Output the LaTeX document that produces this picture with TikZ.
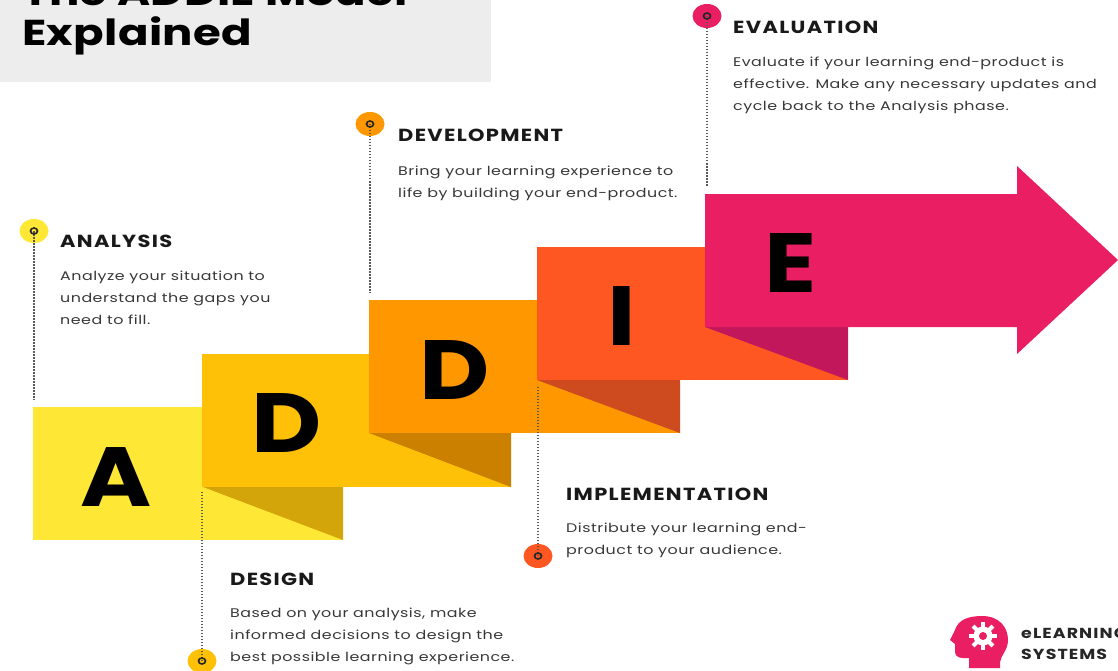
\documentclass[tikz,border=0pt]{standalone}
\usepackage{fontspec}
\setmainfont{Poppins}
\newfontfamily\titlefont[FakeStretch=1.25,LetterSpace=1]{Poppins}
\newfontfamily\headfont[FakeStretch=1.2,LetterSpace=7.5]{Poppins}
\newfontfamily\bodyfont[FakeStretch=1.27,LetterSpace=4]{Poppins}
\newfontfamily\letterfont[FakeStretch=1.15]{Poppins}
\usetikzlibrary{calc,shapes.geometric}
\definecolor{stepA}{HTML}{FFE835}
\definecolor{stepD}{HTML}{FFC107}
\definecolor{stepDv}{HTML}{FF9800}
\definecolor{stepI}{HTML}{FF5722}
\definecolor{stepE}{HTML}{E91E63}
\definecolor{foldA}{HTML}{D4A50A}
\definecolor{foldD}{HTML}{CC8000}
\definecolor{foldDv}{HTML}{CE4A1F}
\definecolor{foldI}{HTML}{C2185B}
\tikzset{
  head/.style={anchor=base west,inner sep=0pt,text=black!90,font=\headfont\bfseries\fontsize{17.5}{18}\selectfont},
  body/.style={anchor=north west,inner sep=0pt,align=left,text=black!78,font=\bodyfont\fontsize{12.5}{22}\selectfont},
  letter/.style={inner sep=0pt,font=\letterfont\bfseries\fontsize{84}{84}\selectfont},
  title/.style={anchor=base west,inner sep=0pt,font=\titlefont\bfseries\fontsize{36}{36}\selectfont},
  brand/.style={anchor=base west,inner sep=0pt,text=black!85,font=\headfont\bfseries\fontsize{14.5}{15}\selectfont},
  pin/.style={ellipse,inner sep=0pt,minimum width=29pt,minimum height=24pt},
  hole/.style={ellipse,draw=black!85,line width=1.6pt,inner sep=0pt,minimum width=7pt,minimum height=6pt},
  guide/.style={black!65,line width=2pt,dash pattern=on 1.5pt off 1.5pt}
}
\begin{document}
\begin{tikzpicture}[x=1pt,y=-1pt]
  \useasboundingbox (0,0) rectangle (1118,671);
  \fill[black!7] (0,0) rectangle (491,82);
  \node[title] (Title) at (22,6) {The ADDIE Model};
  \node[title] (Sub) at (22,46) {Explained};
  % steps
  \fill[stepA] (33,407) rectangle (343,540);
  \fill[foldA] (203,487) -- (343,487) -- (343,540) -- cycle;
  \fill[stepD] (202,354) rectangle (511,487);
  \fill[foldD] (369,433) -- (511,433) -- (511,487) -- cycle;
  \fill[stepDv] (369,300) rectangle (680,433);
  \fill[foldDv] (537,380) -- (680,380) -- (680,433) -- cycle;
  \fill[stepI] (537,247) rectangle (848,380);
  \fill[foldI] (705,327) -- (848,327) -- (848,380) -- cycle;
  \fill[stepE] (705,194) -- (1017,194) -- (1017,166) -- (1118,260) -- (1017,354) -- (1017,327) -- (705,327) -- cycle;
  \node[letter] (A) at (116,477) {A};
  \node[letter] (D) at (287,423) {D};
  \node[letter] (Dv) at (455,370) {D};
  \node[letter] (I) at (622,316) {I};
  \node[letter] (E) at (791,263) {E};
  % pins
  \node[pin,fill=stepA] (PinA) at (34,231) {};
  \node[pin,fill=stepD] (PinD) at (202,661) {};
  \node[pin,fill=stepDv] (PinDv) at (370,124) {};
  \node[pin,fill=stepI] (PinI) at (538,556) {};
  \node[pin,fill=stepE] (PinE) at (707,16) {};
  \coordinate (EndA) at (34,400);
  \coordinate (EndD) at (202,492);
  \coordinate (EndDv) at (370,293);
  \coordinate (EndI) at (538,386);
  \coordinate (EndE) at (707,187);
  \foreach \p/\q in {PinA/EndA,PinD/EndD,PinDv/EndDv,PinI/EndI,PinE/EndE}
    \draw[guide] (\p.center) -- (\q);
  \foreach \p in {PinA,PinD,PinDv,PinI,PinE}
    \node[hole] at (\p) {};
  % texts
  \node[head] (HeadA) at (60,247) {ANALYSIS};
  \node[body] (BodyA) at (60,271) {Analyze your situation to\\understand the gaps you\\need to fill.};
  \node[head] (HeadD) at (230,585) {DESIGN};
  \node[body] (BodyD) at (230,608) {Based on your analysis, make\\informed decisions to design the\\best possible learning experience.};
  \node[head] (HeadDv) at (398,142) {DEVELOPMENT};
  \node[body] (BodyDv) at (398,166) {Bring your learning experience to\\life by building your end-product.};
  \node[head] (HeadI) at (566,500) {IMPLEMENTATION};
  \node[body] (BodyI) at (566,523) {Distribute your learning end-\\product to your audience.};
  \node[head] (HeadE) at (733,34) {EVALUATION};
  \node[body] (BodyE) at (733,57) {Evaluate if your learning end-product is\\effective. Make any necessary updates and\\cycle back to the Analysis phase.};
  % logo
  \fill[stepE] (969,668) -- (969,658) .. controls (962,658) and (956,659) .. (955,652)
    -- (955,644) -- (950,640) -- (955,630) .. controls (958,620) and (968,616) .. (982,616)
    .. controls (1000,616) and (1008,628) .. (1008,640) .. controls (1008,650) and (1001,655) .. (1000,662) -- (1000,668) -- cycle;
  \node[circle,fill=white,inner sep=0pt,minimum size=19pt] (Gear) at (983,636) {};
  \foreach \a in {0,45,...,315}
    \draw[white,line width=4pt] (Gear.center) ++(\a:8) -- ++(\a:6);
  \node[circle,fill=stepE,inner sep=0pt,minimum size=8pt] (GearHole) at (Gear) {};
  \node[brand] (Brand) at (1021,638) {eLEARNING};
  \node[brand] (BrandB) at (1021,659) {SYSTEMS};
\end{tikzpicture}
\end{document}
